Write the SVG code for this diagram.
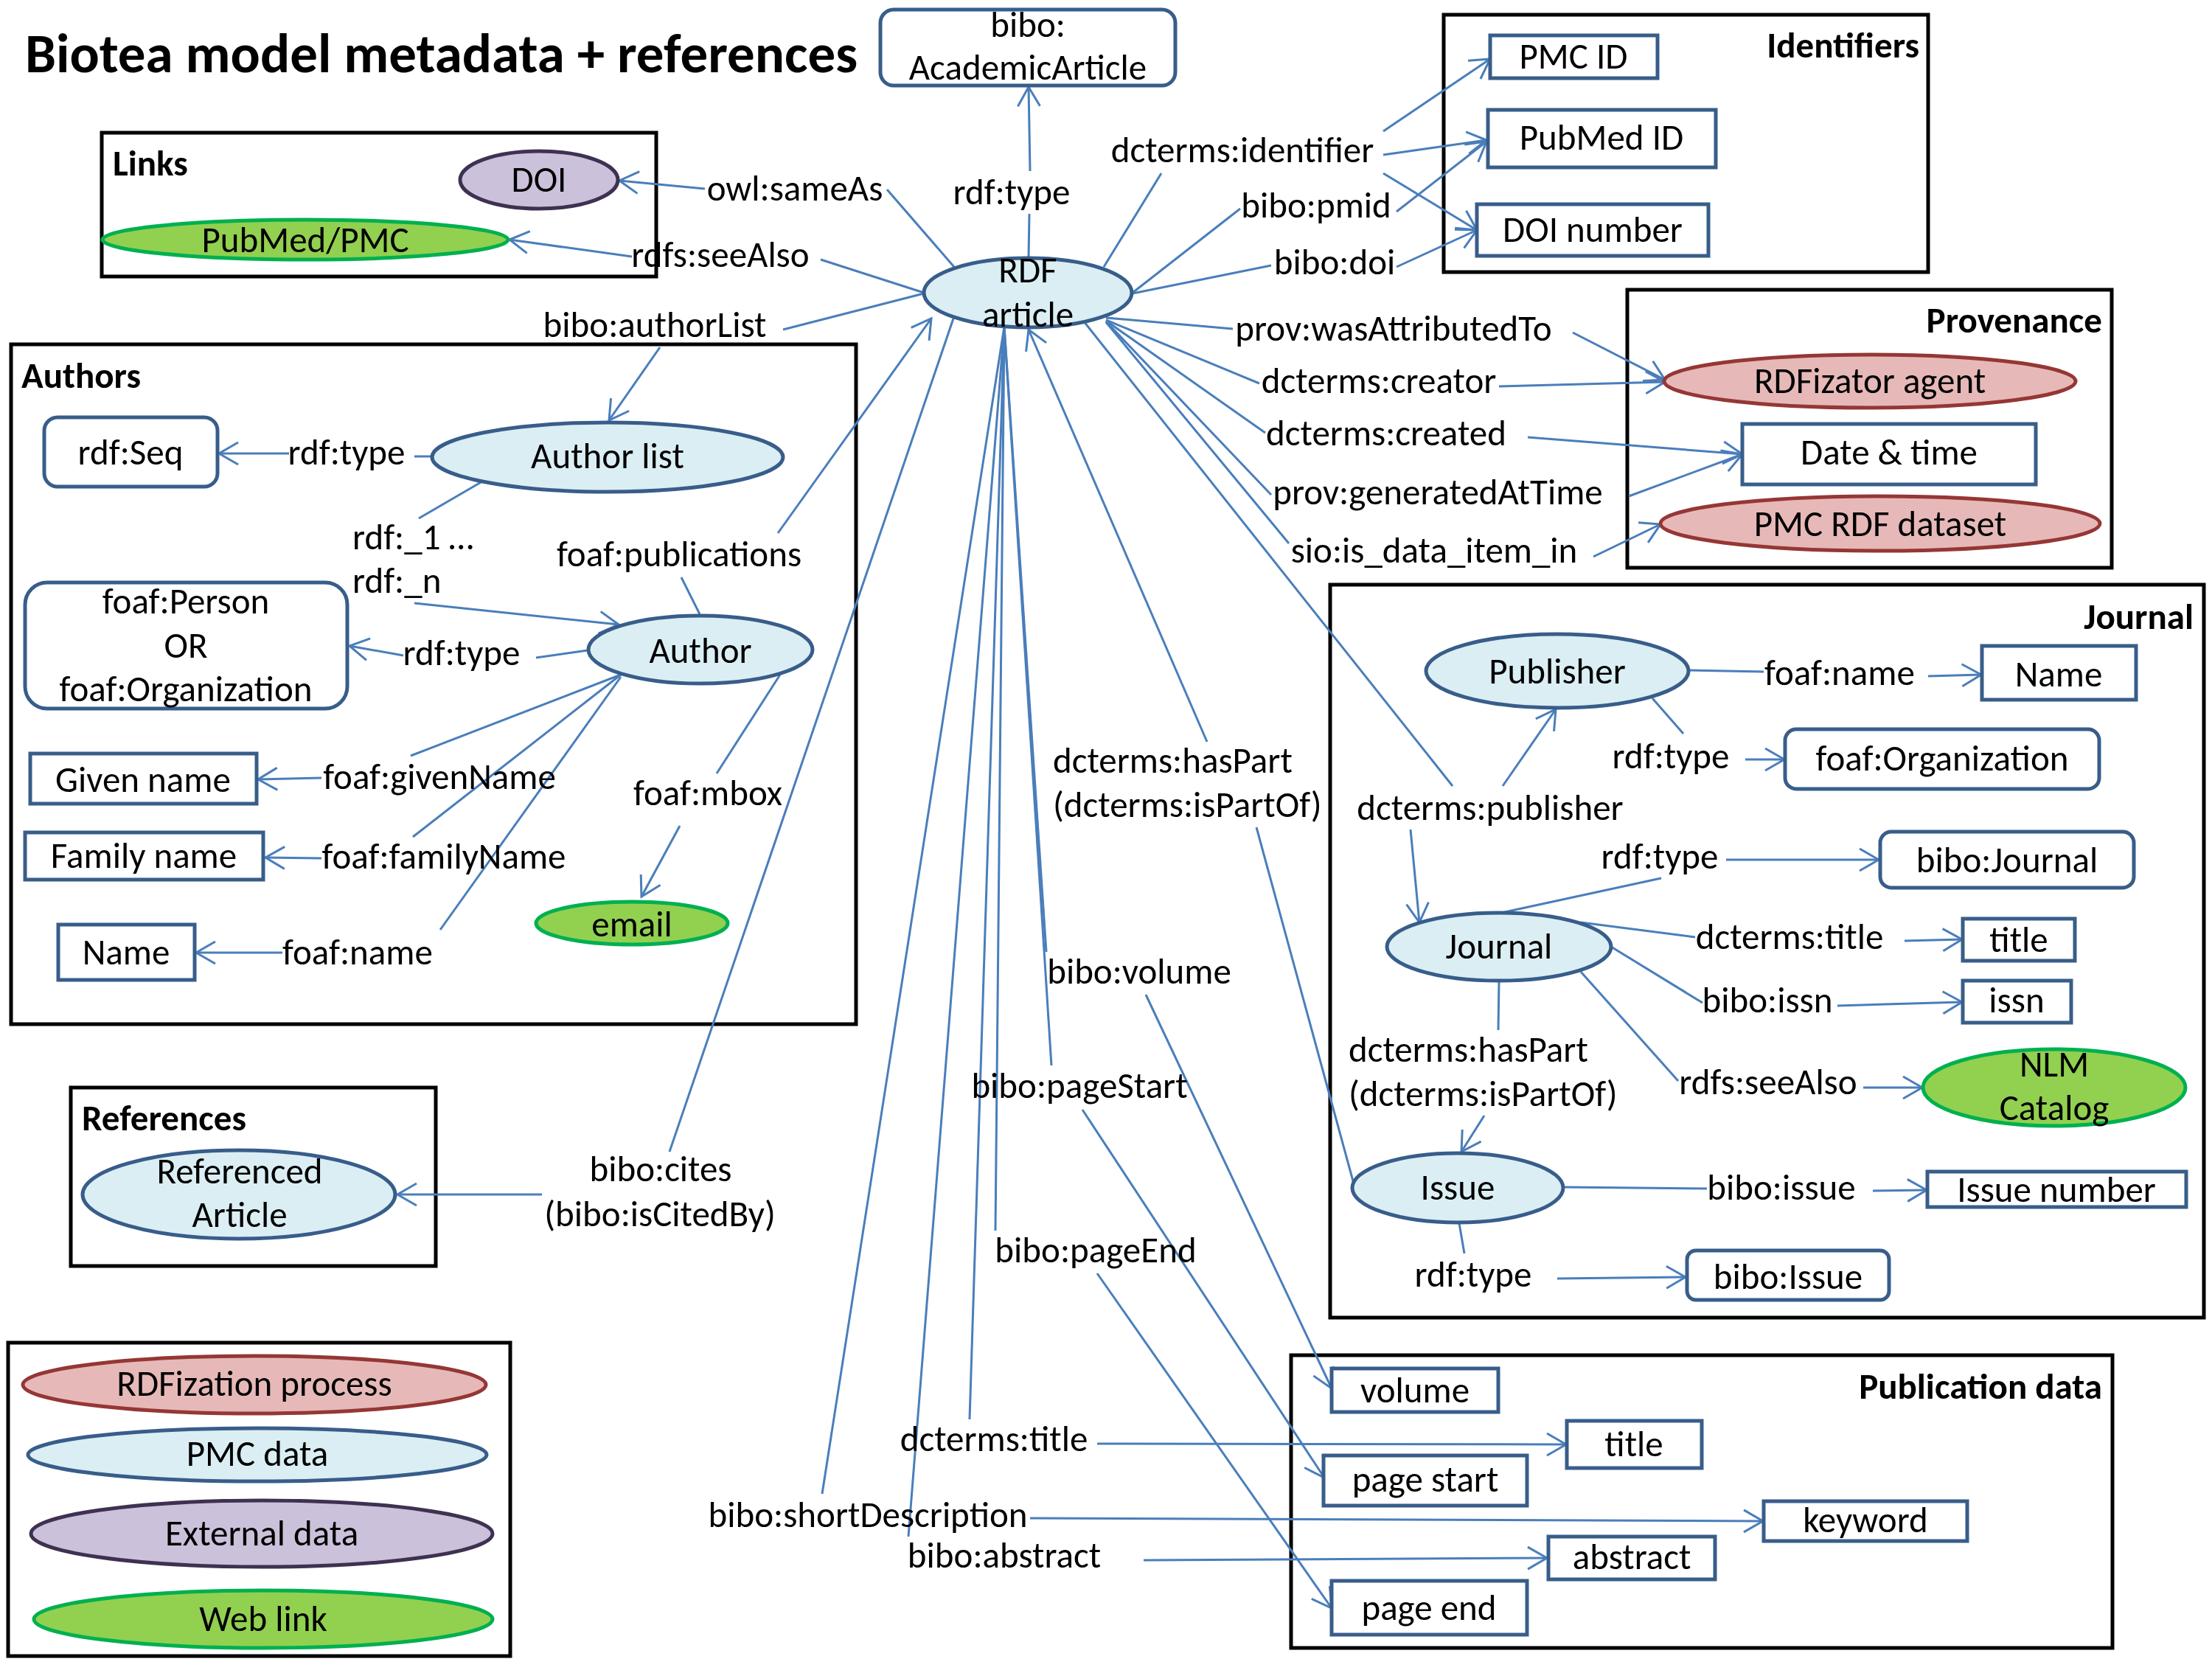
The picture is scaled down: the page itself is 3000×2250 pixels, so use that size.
<svg xmlns="http://www.w3.org/2000/svg" width="3000" height="2250" viewBox="0 0 3000 2250">
<style>
.bg{fill:#fff}
.box{fill:none;stroke:#000;stroke-width:5}
.pmc{fill:#dbeef4;stroke:#385d8a;stroke-width:5}
.rdfz{fill:#e6b9b8;stroke:#953735;stroke-width:5}
.ext{fill:#ccc1da;stroke:#3f3151;stroke-width:5}
.web{fill:#92d050;stroke:#00b050;stroke-width:5}
.lit{fill:#fff;stroke:#385d8a;stroke-width:5}
.c line{stroke:#4a7ebb;stroke-width:3;fill:none}
.a{marker-end:url(#arr)}
text{font-family:Carlito,Lato,"Open Sans","Liberation Sans",sans-serif;font-size:49px;fill:#000}
.m{text-anchor:middle}
.e{text-anchor:end}
.h{font-weight:bold}
.title{font-weight:bold;font-size:75px}
</style>
<defs>
<marker id="arr" markerUnits="userSpaceOnUse" markerWidth="36" markerHeight="36" viewBox="0 0 36 36" refX="33" refY="18" orient="auto">
<path d="M7,3 L33,18 L7,33" fill="none" stroke="#4a7ebb" stroke-width="3"/>
</marker>
</defs>
<rect class="bg" width="3000" height="2250"/>
<text id="title" class="title" x="34" y="98">Biotea model metadata + references</text>

<g id="sections">
<rect id="links-box" class="box" x="138" y="180" width="752" height="195"/>
<text class="h" x="153" y="238">Links</text>
<rect id="identifiers-box" class="box" x="1958" y="20" width="657" height="349"/>
<text class="h e" x="2603" y="78">Identifiers</text>
<rect id="provenance-box" class="box" x="2207" y="393" width="657" height="377"/>
<text class="h e" x="2851" y="451">Provenance</text>
<rect id="authors-box" class="box" x="15" y="467" width="1146" height="922"/>
<text class="h" x="29" y="526">Authors</text>
<rect id="references-box" class="box" x="96" y="1475" width="495" height="242"/>
<text class="h" x="111" y="1533">References</text>
<rect id="legend-box" class="box" x="11" y="1821" width="681" height="425"/>
<rect id="journal-box" class="box" x="1804" y="793" width="1185" height="994"/>
<text class="h e" x="2975" y="853">Journal</text>
<rect id="pubdata-box" class="box" x="1751" y="1838" width="1114" height="397"/>
<text class="h e" x="2851" y="1897">Publication data</text>
</g>

<g id="connectors" class="c">
<line x1="1294" y1="362" x2="1203" y2="257"/><line class="a" x1="956" y1="256" x2="840" y2="245"/>
<line x1="1253" y1="397" x2="1113" y2="352"/><line class="a" x1="857" y1="348" x2="691" y2="325"/>
<line x1="1395" y1="350" x2="1396" y2="290"/><line class="a" x1="1397" y1="232" x2="1395" y2="118"/>
<line x1="1497" y1="362" x2="1575" y2="235"/><line class="a" x1="1876" y1="178" x2="2021" y2="80"/><line class="a" x1="1876" y1="210" x2="2016" y2="190"/><line class="a" x1="1876" y1="235" x2="2003" y2="312"/>
<line x1="1536" y1="397" x2="1682" y2="283"/><line class="a" x1="1894" y1="287" x2="2016" y2="192"/>
<line x1="1536" y1="398" x2="1724" y2="360"/><line class="a" x1="1894" y1="362" x2="2003" y2="312"/>
<line x1="1253" y1="398" x2="1062" y2="447"/><line class="a" x1="895" y1="471" x2="826" y2="570"/>
<line x1="1500" y1="431" x2="1672" y2="446"/><line class="a" x1="2133" y1="451" x2="2258" y2="515"/>
<line x1="1500" y1="434" x2="1708" y2="520"/><line class="a" x1="2033" y1="524" x2="2258" y2="518"/>
<line x1="1500" y1="435" x2="1716" y2="587"/><line class="a" x1="2072" y1="593" x2="2363" y2="616"/>
<line x1="1500" y1="436" x2="1724" y2="671"/><line class="a" x1="2209" y1="673" x2="2363" y2="616"/>
<line x1="1500" y1="437" x2="1748" y2="737"/><line class="a" x1="2161" y1="755" x2="2252" y2="711"/>
<line x1="1470" y1="436" x2="1970" y2="1066"/><line class="a" x1="2038" y1="1066" x2="2110" y2="962"/><line class="a" x1="1913" y1="1125" x2="1925" y2="1251"/>
<line class="a" x1="1637" y1="1006" x2="1395" y2="447"/><line x1="1704" y1="1122" x2="1837" y2="1609"/>
<line x1="949" y1="833" x2="924" y2="783"/><line class="a" x1="1055" y1="723" x2="1263" y2="432"/>
<line x1="1293" y1="432" x2="908" y2="1562"/><line class="a" x1="735" y1="1620" x2="539" y2="1620"/>
<line x1="1362" y1="443" x2="1419" y2="1291"/><line class="a" x1="1554" y1="1349" x2="1806" y2="1883"/>
<line x1="1362" y1="443" x2="1426" y2="1445"/><line class="a" x1="1468" y1="1505" x2="1796" y2="2004"/>
<line x1="1362" y1="443" x2="1350" y2="1669"/><line class="a" x1="1488" y1="1727" x2="1806" y2="2181"/>
<line x1="1362" y1="443" x2="1315" y2="1925"/><line class="a" x1="1488" y1="1958" x2="2124" y2="1959"/>
<line x1="1362" y1="443" x2="1115" y2="2026"/><line class="a" x1="1397" y1="2059" x2="2391" y2="2063"/>
<line x1="1362" y1="443" x2="1232" y2="2084"/><line class="a" x1="1551" y1="2116" x2="2098" y2="2113"/>
<line x1="585" y1="619" x2="562" y2="619"/><line class="a" x1="392" y1="615" x2="297" y2="615"/>
<line x1="654" y1="653" x2="568" y2="703"/><line class="a" x1="562" y1="818" x2="839" y2="847"/>
<line x1="797" y1="882" x2="727" y2="892"/><line class="a" x1="547" y1="889" x2="474" y2="876"/>
<line x1="842" y1="915" x2="557" y2="1025"/><line class="a" x1="436" y1="1055" x2="350" y2="1057"/>
<line x1="842" y1="915" x2="560" y2="1135"/><line class="a" x1="436" y1="1164" x2="360" y2="1163"/>
<line x1="842" y1="918" x2="597" y2="1261"/><line class="a" x1="383" y1="1292" x2="266" y2="1292"/>
<line x1="1058" y1="915" x2="972" y2="1049"/><line class="a" x1="922" y1="1120" x2="870" y2="1216"/>
<line x1="2290" y1="909" x2="2392" y2="911"/><line class="a" x1="2615" y1="917" x2="2687" y2="915"/>
<line x1="2241" y1="947" x2="2283" y2="995"/><line class="a" x1="2367" y1="1030" x2="2420" y2="1030"/>
<line x1="2036" y1="1238" x2="2253" y2="1191"/><line class="a" x1="2341" y1="1166" x2="2548" y2="1166"/>
<line x1="2144" y1="1251" x2="2299" y2="1271"/><line class="a" x1="2583" y1="1276" x2="2661" y2="1274"/>
<line x1="2185" y1="1284" x2="2309" y2="1360"/><line class="a" x1="2492" y1="1364" x2="2661" y2="1359"/>
<line x1="2144" y1="1318" x2="2276" y2="1466"/><line class="a" x1="2527" y1="1475" x2="2607" y2="1475"/>
<line x1="2033" y1="1330" x2="2032" y2="1397"/><line class="a" x1="2013" y1="1513" x2="1982" y2="1562"/>
<line x1="2120" y1="1610" x2="2315" y2="1612"/><line class="a" x1="2540" y1="1615" x2="2613" y2="1614"/>
<line x1="1979" y1="1659" x2="1986" y2="1700"/><line class="a" x1="2112" y1="1734" x2="2286" y2="1732"/>
</g>

<g id="edge-labels">
<text class="m" x="1078" y="272">owl:sameAs</text>
<text class="m" x="977" y="362">rdfs:seeAlso</text>
<text class="m" x="888" y="457">bibo:authorList</text>
<text class="m" x="1372" y="277">rdf:type</text>
<text class="m" x="1685" y="220">dcterms:identifier</text>
<text class="m" x="1785" y="295">bibo:pmid</text>
<text class="m" x="1810" y="372">bibo:doi</text>
<text class="m" x="1890" y="462">prov:wasAttributedTo</text>
<text class="m" x="1870" y="533">dcterms:creator</text>
<text class="m" x="1880" y="604">dcterms:created</text>
<text class="m" x="1950" y="684">prov:generatedAtTime</text>
<text class="m" x="1945" y="763">sio:is_data_item_in</text>
<text x="1428" y="1048">dcterms:hasPart</text>
<text x="1428" y="1108">(dcterms:isPartOf)</text>
<text class="m" x="2021" y="1112">dcterms:publisher</text>
<text class="m" x="1545" y="1334">bibo:volume</text>
<text class="m" x="1464" y="1489">bibo:pageStart</text>
<text class="m" x="1486" y="1712">bibo:pageEnd</text>
<text class="m" x="1348" y="1968">dcterms:title</text>
<text class="m" x="1177" y="2071">bibo:shortDescription</text>
<text class="m" x="1362" y="2126">bibo:abstract</text>
<text class="m" x="896" y="1602">bibo:cites</text>
<text class="m" x="895" y="1663">(bibo:isCitedBy)</text>
<text class="m" x="470" y="630">rdf:type</text>
<text x="478" y="745">rdf:_1 …</text>
<text x="478" y="804">rdf:_n</text>
<text class="m" x="626" y="902">rdf:type</text>
<text class="m" x="921" y="768">foaf:publications</text>
<text class="m" x="596" y="1070">foaf:givenName</text>
<text class="m" x="602" y="1178">foaf:familyName</text>
<text class="m" x="485" y="1308">foaf:name</text>
<text class="m" x="960" y="1092">foaf:mbox</text>
<text class="m" x="2495" y="929">foaf:name</text>
<text class="m" x="2266" y="1042">rdf:type</text>
<text class="m" x="2251" y="1178">rdf:type</text>
<text class="m" x="2427" y="1287">dcterms:title</text>
<text class="m" x="2397" y="1373">bibo:issn</text>
<text class="m" x="2398" y="1484">rdfs:seeAlso</text>
<text x="1829" y="1440">dcterms:hasPart</text>
<text x="1829" y="1500">(dcterms:isPartOf)</text>
<text class="m" x="2416" y="1627">bibo:issue</text>
<text class="m" x="1998" y="1745">rdf:type</text>
</g>

<g id="n-academic"><rect class="lit" x="1194" y="13" width="400" height="103" rx="18"/><text class="m" x="1394" y="50">bibo:</text><text class="m" x="1394" y="108">AcademicArticle</text></g>
<g id="n-doi"><ellipse class="ext" cx="731" cy="244" rx="107" ry="39"/><text class="m" x="731" y="260">DOI</text></g>
<g id="n-pubmedpmc"><ellipse class="web" cx="414" cy="325" rx="275" ry="27"/><text class="m" x="414" y="342">PubMed/PMC</text></g>
<g id="n-pmcid"><rect class="lit" x="2021" y="48" width="227" height="58"/><text class="m" x="2134" y="93">PMC ID</text></g>
<g id="n-pubmedid"><rect class="lit" x="2018" y="149" width="309" height="78"/><text class="m" x="2172" y="203">PubMed ID</text></g>
<g id="n-doinumber"><rect class="lit" x="2003" y="277" width="314" height="70"/><text class="m" x="2160" y="328">DOI number</text></g>
<g id="n-article"><ellipse class="pmc" cx="1394" cy="397" rx="141" ry="47"/><text class="m" x="1394" y="383">RDF</text><text class="m" x="1394" y="443">article</text></g>
<g id="n-rdfizator"><ellipse class="rdfz" cx="2536" cy="517" rx="279" ry="36"/><text class="m" x="2536" y="533">RDFizator agent</text></g>
<g id="n-datetime"><rect class="lit" x="2363" y="575" width="398" height="82"/><text class="m" x="2562" y="630">Date &amp; time</text></g>
<g id="n-pmcrdf"><ellipse class="rdfz" cx="2550" cy="710" rx="298" ry="37"/><text class="m" x="2550" y="727">PMC RDF dataset</text></g>
<g id="n-rdfseq"><rect class="lit" x="60" y="566" width="235" height="94" rx="18"/><text class="m" x="177" y="630">rdf:Seq</text></g>
<g id="n-authorlist"><ellipse class="pmc" cx="824" cy="620" rx="238" ry="47"/><text class="m" x="824" y="635">Author list</text></g>
<g id="n-personorg"><rect class="lit" x="34" y="790" width="437" height="171" rx="30"/><text class="m" x="252" y="832">foaf:Person</text><text class="m" x="252" y="892">OR</text><text class="m" x="252" y="951">foaf:Organization</text></g>
<g id="n-author"><ellipse class="pmc" cx="950" cy="881" rx="152" ry="46"/><text class="m" x="950" y="899">Author</text></g>
<g id="n-givenname"><rect class="lit" x="41" y="1022" width="307" height="68"/><text class="m" x="194" y="1074">Given name</text></g>
<g id="n-familyname"><rect class="lit" x="34" y="1129" width="323" height="64"/><text class="m" x="195" y="1177">Family name</text></g>
<g id="n-authorname"><rect class="lit" x="79" y="1254" width="185" height="75"/><text class="m" x="171" y="1308">Name</text></g>
<g id="n-email"><ellipse class="web" cx="857" cy="1252" rx="130" ry="29"/><text class="m" x="857" y="1270">email</text></g>
<g id="n-refarticle"><ellipse class="pmc" cx="324" cy="1620" rx="212" ry="60"/><text class="m" x="325" y="1605">Referenced</text><text class="m" x="325" y="1664">Article</text></g>
<g id="n-publisher"><ellipse class="pmc" cx="2112" cy="910" rx="178" ry="50"/><text class="m" x="2112" y="927">Publisher</text></g>
<g id="n-pubname"><rect class="lit" x="2688" y="876" width="209" height="73"/><text class="m" x="2792" y="931">Name</text></g>
<g id="n-foaforg"><rect class="lit" x="2421" y="989" width="426" height="81" rx="15"/><text class="m" x="2634" y="1045">foaf:Organization</text></g>
<g id="n-bibojournal"><rect class="lit" x="2550" y="1128" width="344" height="76" rx="15"/><text class="m" x="2722" y="1183">bibo:Journal</text></g>
<g id="n-journal"><ellipse class="pmc" cx="2033" cy="1284" rx="152" ry="46"/><text class="m" x="2033" y="1300">Journal</text></g>
<g id="n-jtitle"><rect class="lit" x="2662" y="1246" width="152" height="57"/><text class="m" x="2738" y="1291">title</text></g>
<g id="n-issn"><rect class="lit" x="2662" y="1330" width="147" height="57"/><text class="m" x="2735" y="1373">issn</text></g>
<g id="n-nlm"><ellipse class="web" cx="2786" cy="1475" rx="178" ry="52"/><text class="m" x="2786" y="1460">NLM</text><text class="m" x="2786" y="1519">Catalog</text></g>
<g id="n-issue"><ellipse class="pmc" cx="1977" cy="1611" rx="143" ry="47"/><text class="m" x="1977" y="1627">Issue</text></g>
<g id="n-issuenumber"><rect class="lit" x="2614" y="1589" width="351" height="48"/><text class="m" x="2789" y="1630">Issue number</text></g>
<g id="n-biboissue"><rect class="lit" x="2288" y="1696" width="274" height="67" rx="12"/><text class="m" x="2425" y="1748">bibo:Issue</text></g>
<g id="n-volume"><rect class="lit" x="1806" y="1856" width="226" height="59"/><text class="m" x="1919" y="1902">volume</text></g>
<g id="n-title"><rect class="lit" x="2125" y="1927" width="183" height="64"/><text class="m" x="2216" y="1975">title</text></g>
<g id="n-pagestart"><rect class="lit" x="1795" y="1974" width="276" height="68"/><text class="m" x="1933" y="2023">page start</text></g>
<g id="n-keyword"><rect class="lit" x="2392" y="2036" width="276" height="54"/><text class="m" x="2530" y="2078">keyword</text></g>
<g id="n-abstract"><rect class="lit" x="2100" y="2084" width="226" height="58"/><text class="m" x="2213" y="2128">abstract</text></g>
<g id="n-pageend"><rect class="lit" x="1806" y="2144" width="265" height="73"/><text class="m" x="1938" y="2197">page end</text></g>

<g id="legend">
<g id="lg-rdfization"><ellipse class="rdfz" cx="345" cy="1878" rx="314" ry="39"/><text class="m" x="345" y="1893">RDFization process</text></g>
<g id="lg-pmc"><ellipse class="pmc" cx="349" cy="1973" rx="311" ry="36"/><text class="m" x="349" y="1988">PMC data</text></g>
<g id="lg-external"><ellipse class="ext" cx="355" cy="2080" rx="313" ry="45"/><text class="m" x="355" y="2096">External data</text></g>
<g id="lg-web"><ellipse class="web" cx="357" cy="2196" rx="311" ry="39"/><text class="m" x="357" y="2212">Web link</text></g>
</g>
</svg>
